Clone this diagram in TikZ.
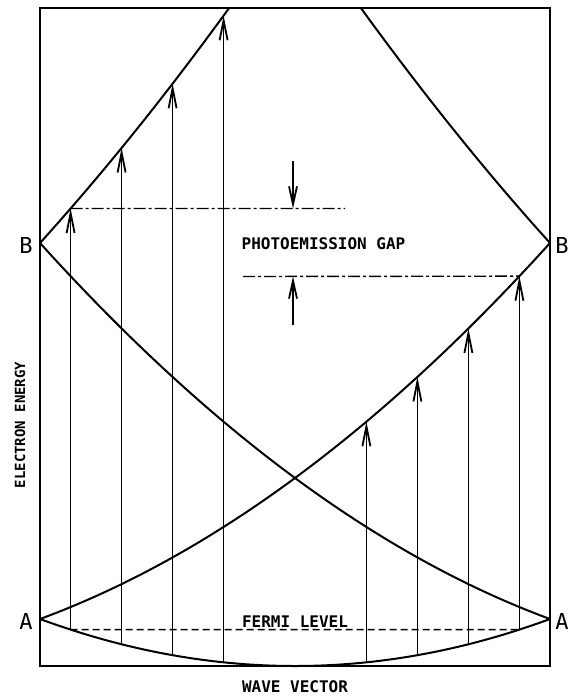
\documentclass[tikz,border=0pt]{standalone}
\usepackage{fontspec}
\setmonofont{DejaVu Sans Mono}
\usetikzlibrary{arrows.meta}
\tikzset{
  band/.style={line width=2pt, line join=round},
  frame/.style={line width=2pt},
  trans/.style={line width=1.5pt, -{Straight Barb[length=20pt,width=8pt,line width=1.8pt]}},
  gaparrow/.style={line width=1.5pt, -{Straight Barb[length=18pt,width=8pt,line width=1.8pt]}},
  gapline/.style={line width=1.4pt, dash pattern=on 12pt off 3pt on 3pt off 3pt},
  fermiline/.style={line width=1.4pt, dash pattern=on 7pt off 4pt},
  lbl/.style={font=\ttfamily\bfseries\fontsize{16}{16}\selectfont, inner sep=0pt},
  pt/.style={font=\ttfamily\fontsize{22}{22}\selectfont, inner sep=0pt}
}
\begin{document}
\begin{tikzpicture}[x=1pt,y=-1pt]
\useasboundingbox (0,0) rectangle (570,696);
% frame
\draw[frame] (40,8) rectangle (550,666);
% bands: X(u)=295+255u, Y(E)=666-47E
\draw[band] plot[domain=-1:1, samples=120] ({295+255*\x},{666-47*\x*\x});
\draw[band] plot[domain=-1:1, samples=120] ({295+255*\x},{666-47*(\x+2)*(\x+2)});
\draw[band] plot[domain=-1:1, samples=120] ({295+255*\x},{666-47*(\x-2)*(\x-2)});
\draw[band] plot[domain=-1:-0.2583, samples=80] ({295+255*\x},{666-47*(\x+4)*(\x+4)});
\draw[band] plot[domain=0.2583:1, samples=80] ({295+255*\x},{666-47*(\x-4)*(\x-4)});
% transition arrows (left: to (u+4)^2 band; right: to (u+2)^2 band)
\foreach \u [count=\i] in {-0.88,-0.68,-0.48,-0.28}{
  \coordinate (lb\i) at ({295+255*\u},{666-47*\u*\u});
  \coordinate (lt\i) at ({295+255*\u},{666-47*(\u+4)*(\u+4)});
  \draw[trans] (lb\i) -- (lt\i);
}
\foreach \u [count=\i] in {0.28,0.48,0.68,0.88}{
  \coordinate (rb\i) at ({295+255*\u},{666-47*\u*\u});
  \coordinate (rt\i) at ({295+255*\u},{666-47*(\u+2)*(\u+2)});
  \draw[trans] (rb\i) -- (rt\i);
}
% Fermi level
\draw[fermiline] (lb1) -- (rb4);
\node[lbl] (fermi) at (295,622) {FERMI LEVEL};
% photoemission gap
\coordinate (gu) at (345,208.5);
\coordinate (gl) at (243,276.5);
\draw[gapline] (lt1) -- (gu);
\draw[gapline] (gl) -- (rt4);
\coordinate (dtop) at (293,161);
\coordinate (dtip) at (293,208.5);
\coordinate (ubot) at (293,325);
\coordinate (utip) at (293,276.5);
\draw[gaparrow] (dtop) -- (dtip);
\draw[gaparrow] (ubot) -- (utip);
\node[lbl] (gap) at (323.5,244) {PHOTOEMISSION GAP};
% point labels
\node[pt] (Bl) at (26,245) {B};
\node[pt] (Br) at (562,245) {B};
\node[pt] (Al) at (26,621) {A};
\node[pt] (Ar) at (562,621) {A};
% axes labels
\node[lbl] (wv) at (295,687) {WAVE VECTOR};
\node[lbl, rotate=90, font=\ttfamily\bfseries\fontsize{14}{14}\selectfont] (ee) at (20,425) {ELECTRON ENERGY};
\end{tikzpicture}
\end{document}
